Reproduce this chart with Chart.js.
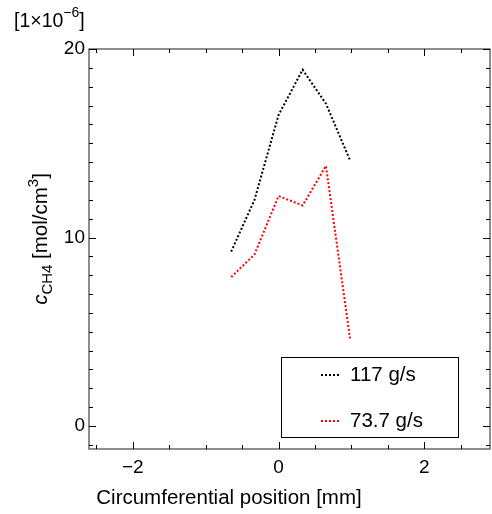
<!DOCTYPE html>
<html>
<head>
<meta charset="utf-8">
<script src="https://cdn.jsdelivr.net/npm/chart.js@4.4.0/dist/chart.umd.min.js"></script>
<style>
  html, body { margin: 0; padding: 0; background: #fff; }
  #wrap { width: 492px; height: 514px; }
</style>
</head>
<body>
<div id="wrap"><canvas id="c" width="492" height="514"></canvas></div>
<script>
// circumferential positions [mm]
const positions = [-0.65, -0.33, 0.0, 0.33, 0.65, 0.98];
// CH4 concentration [1e-6 mol/cm3]
const conc117 = [9.25, 12.0, 16.5, 18.9, 17.1, 14.1];
const conc737 = [7.9, 9.1, 12.2, 11.7, 13.8, 4.65];
const seriesLabels = ['117 g/s', '73.7 g/s'];
const seriesColors = ['#000000', '#ff0000'];

const xTicks = [-2, 0, 2];
const yTicks = [0, 10, 20];
const xMinor = 0.5;
const yMinor = 1;

const FONT = 'Liberation Sans, Arial, sans-serif';

const pts = (ys) => positions.map((x, i) => ({ x: x, y: ys[i] }));

// border, inward ticks, legend and titles
const frame = {
  id: 'frame',
  afterDraw(chart) {
    const ctx = chart.ctx;
    const xs = chart.scales.x, ys = chart.scales.y;
    const a = chart.chartArea;
    ctx.save();

    ctx.strokeStyle = '#444';
    ctx.lineWidth = 1.2;
    ctx.strokeRect(a.left, a.top, a.right - a.left, a.bottom - a.top);

    ctx.strokeStyle = '#000';
    ctx.lineWidth = 1;
    ctx.beginPath();
    for (let v = Math.ceil(xs.min / xMinor) * xMinor; v <= xs.max; v += xMinor) {
      const px = Math.round(xs.getPixelForValue(v)) + 0.5;
      const len = xTicks.some(t => Math.abs(t - v) < 1e-6) ? 7 : 4;
      ctx.moveTo(px, a.bottom); ctx.lineTo(px, a.bottom - len);
      ctx.moveTo(px, a.top); ctx.lineTo(px, a.top + len);
    }
    for (let v = Math.ceil(ys.min / yMinor) * yMinor; v <= ys.max; v += yMinor) {
      const py = Math.round(ys.getPixelForValue(v)) + 0.5;
      const len = yTicks.some(t => Math.abs(t - v) < 1e-6) ? 7 : 4;
      ctx.moveTo(a.left, py); ctx.lineTo(a.left + len, py);
      ctx.moveTo(a.right, py); ctx.lineTo(a.right - len, py);
    }
    ctx.stroke();

    // legend box
    const bx = 281, by = 357, bw = 177, bh = 80;
    ctx.strokeStyle = '#000';
    ctx.lineWidth = 1;
    ctx.strokeRect(bx + 0.5, by + 0.5, bw, bh);
    ctx.font = '20.5px ' + FONT;
    ctx.textBaseline = 'middle';
    ctx.textAlign = 'left';
    [375, 421].forEach((ly, i) => {
      ctx.strokeStyle = seriesColors[i];
      ctx.lineWidth = 2;
      ctx.setLineDash([2, 2]);
      ctx.beginPath();
      ctx.moveTo(321, ly); ctx.lineTo(341, ly);
      ctx.stroke();
      ctx.setLineDash([]);
      ctx.fillStyle = '#000';
      ctx.fillText(seriesLabels[i], 350, ly);
    });

    // multiplier
    ctx.fillStyle = '#000';
    ctx.font = '19.5px ' + FONT;
    ctx.textAlign = 'left';
    ctx.textBaseline = 'alphabetic';
    let x0 = 14;
    ctx.fillText('[1\u00d710', x0, 27);
    x0 += ctx.measureText('[1\u00d710').width;
    ctx.font = '14px ' + FONT;
    ctx.fillText('\u22126', x0, 17);
    x0 += ctx.measureText('\u22126').width;
    ctx.font = '19.5px ' + FONT;
    ctx.fillText(']', x0, 27);

    // x title
    ctx.font = '20.5px ' + FONT;
    ctx.textAlign = 'center';
    ctx.textBaseline = 'middle';
    ctx.fillText('Circumferential position [mm]', 229, 498);

    // y title (rotated)
    ctx.translate(47, 239);
    ctx.rotate(-Math.PI / 2);
    const parts = [
      { t: 'c', f: 'italic 20.5px ' + FONT, dy: 0 },
      { t: 'CH4', f: '15px ' + FONT, dy: 5 },
      { t: ' [mol/cm', f: '20.5px ' + FONT, dy: 0 },
      { t: '3', f: '15px ' + FONT, dy: -9 },
      { t: ']', f: '20.5px ' + FONT, dy: 0 }
    ];
    let total = 0;
    parts.forEach(p => { ctx.font = p.f; total += ctx.measureText(p.t).width; });
    let cx = -total / 2;
    ctx.textAlign = 'left';
    ctx.textBaseline = 'alphabetic';
    parts.forEach(p => {
      ctx.font = p.f;
      ctx.fillText(p.t, cx, p.dy);
      cx += ctx.measureText(p.t).width;
    });
    ctx.restore();
  }
};

new Chart(document.getElementById('c'), {
  type: 'line',
  data: {
    datasets: [
      {
        label: seriesLabels[0],
        data: pts(conc117),
        borderColor: seriesColors[0],
        borderWidth: 2,
        borderDash: [2, 2],
        pointRadius: 0,
        fill: false,
        tension: 0
      },
      {
        label: seriesLabels[1],
        data: pts(conc737),
        borderColor: seriesColors[1],
        borderWidth: 2,
        borderDash: [2, 2],
        pointRadius: 0,
        fill: false,
        tension: 0
      }
    ]
  },
  options: {
    responsive: false,
    animation: false,
    layout: { padding: { top: 49, right: 2, left: 0, bottom: 0 } },
    plugins: { legend: { display: false }, tooltip: { enabled: false } },
    scales: {
      x: {
        type: 'linear',
        min: -2.6,
        max: 2.9,
        afterBuildTicks: (s) => { s.ticks = xTicks.map(v => ({ value: v })); },
        afterFit: (s) => { s.height = 65; },
        grid: { display: false, drawTicks: false },
        border: { display: false },
        ticks: {
          padding: 7,
          color: '#000',
          font: { family: FONT, size: 19 },
          maxRotation: 0,
          callback: (v) => (v < 0 ? '\u2212' + Math.abs(v) : String(v))
        }
      },
      y: {
        type: 'linear',
        min: -1.22,
        max: 20,
        afterBuildTicks: (s) => { s.ticks = yTicks.map(v => ({ value: v })); },
        afterFit: (s) => { s.width = 89; },
        grid: { display: false, drawTicks: false },
        border: { display: false },
        ticks: {
          padding: 4,
          color: '#000',
          font: { family: FONT, size: 19 }
        }
      }
    }
  },
  plugins: [frame]
});
</script>
</body>
</html>
